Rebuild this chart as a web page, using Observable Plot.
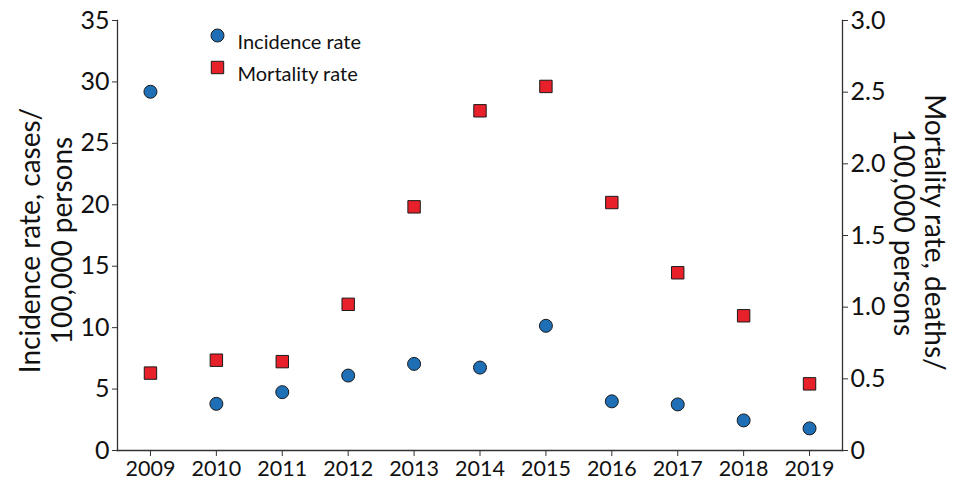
<!DOCTYPE html>
<html><head><meta charset="utf-8">
<script src="https://cdn.jsdelivr.net/npm/d3@7"></script>
<script src="https://cdn.jsdelivr.net/npm/@observablehq/plot@0.6"></script>
<style>body{margin:0;background:#fff}</style>
</head><body><div id="chart"></div>
<script>
const years = [2009, 2010, 2011, 2012, 2013, 2014, 2015, 2016, 2017, 2018, 2019];
const incidence = [29.2, 3.8, 4.75, 6.1, 7.05, 6.75, 10.15, 4.0, 3.75, 2.45, 1.8];
const mortality = [0.54, 0.63, 0.62, 1.02, 1.70, 2.37, 2.54, 1.73, 1.24, 0.94, 0.465];
const leftTicks = [0, 5, 10, 15, 20, 25, 30, 35];
const rightTicks = [0, 0.5, 1.0, 1.5, 2.0, 2.5, 3.0];
const rightLabels = ["0", "0.5", "1.0", "1.5", "2.0", "2.5", "3.0"];
const leftTitle = "Incidence rate, cases/\n100,000 persons";
const rightTitle = "Mortality rate, deaths/\n100,000 persons";
const legendLabels = ["Incidence rate", "Mortality rate"];

const k = 35 / 3; // right-axis to left-axis scale factor
const rows = years.map((y, i) => ({year: y, incidence: incidence[i], mortality: mortality[i]}));

const blue = "#1f6fb6", red = "#e8202a", ink = "#1a1a1a", axisColor = "#333";

const chart = Plot.plot({
  width: 954,
  height: 482,
  marginLeft: 117,
  marginRight: 112,
  marginTop: 20,
  marginBottom: 32,
  style: {fontFamily: "Lato, sans-serif", color: "#111", background: "#fff"},
  x: {domain: [2008.5, 2019.5]},
  y: {domain: [0, 35]},
  marks: [
    Plot.frame({anchor: "left", stroke: axisColor, strokeWidth: 1.3}),
    Plot.frame({anchor: "right", stroke: axisColor, strokeWidth: 1.3}),
    Plot.frame({anchor: "bottom", stroke: axisColor, strokeWidth: 1.3}),
    Plot.axisX({ticks: years, tickFormat: d => String(d), tickSize: 6, tickPadding: 4, fontSize: 21.5, label: null, stroke: axisColor}),
    Plot.axisY({anchor: "left", ticks: leftTicks, tickSize: 5, tickPadding: 3, fontSize: 25, label: null, stroke: axisColor}),
    Plot.axisY({anchor: "right", ticks: rightTicks.map(v => v * k), tickFormat: (d, i) => rightLabels[i], tickSize: 5, tickPadding: 3, fontSize: 25, label: null, stroke: axisColor}),
    Plot.text([leftTitle], {frameAnchor: "left", rotate: -90, dx: -72, dy: 5, fontSize: 28, lineHeight: 1.15, textAnchor: "middle", fill: "#111"}),
    Plot.text([rightTitle], {frameAnchor: "right", rotate: 90, dx: 77, dy: -3, fontSize: 28, lineHeight: 1.12, textAnchor: "middle", fill: "#111"}),
    Plot.dot(rows, {x: "year", y: d => d.mortality * k, symbol: "square", r: 7, fill: red, stroke: ink, strokeWidth: 1}),
    Plot.dot(rows, {x: "year", y: "incidence", symbol: "circle", r: 6.5, fill: blue, stroke: ink, strokeWidth: 1}),
    Plot.dot([legendLabels[0]], {frameAnchor: "top-left", dx: 100, dy: 15, symbol: "circle", r: 6.5, fill: blue, stroke: ink, strokeWidth: 1}),
    Plot.dot([legendLabels[1]], {frameAnchor: "top-left", dx: 100, dy: 47, symbol: "square", r: 7, fill: red, stroke: ink, strokeWidth: 1}),
    Plot.text([legendLabels[0]], {frameAnchor: "top-left", dx: 120, dy: 14, text: d => d, textAnchor: "start", fontSize: 20, fill: "#111"}),
    Plot.text([legendLabels[1]], {frameAnchor: "top-left", dx: 120, dy: 46, text: d => d, textAnchor: "start", fontSize: 20, fill: "#111"})
  ]
});
document.getElementById("chart").append(chart);
</script>
</body></html>
